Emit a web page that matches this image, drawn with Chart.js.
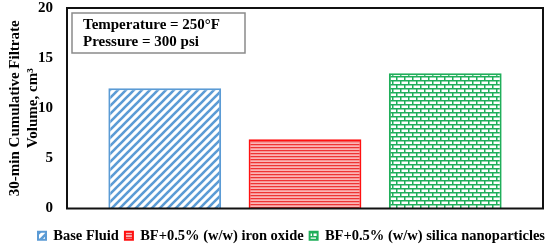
<!DOCTYPE html>
<html>
<head>
<meta charset="utf-8">
<script src="https://cdn.jsdelivr.net/npm/chart.js@4/dist/chart.umd.min.js"></script>
<style>
  html, body { margin: 0; padding: 0; background: #fff; }
  #wrap { width: 550px; height: 247px; }
</style>
</head>
<body>
<div id="wrap"><canvas id="filtrateChart"></canvas></div>
<script>
// data
const categories = [''];
const seriesNames = [
    'Base Fluid',
    'BF+0.5% (w/w) iron oxide',
    'BF+0.5% (w/w) silica nanoparticles'
];
const filtrateVolume = [12.0, 6.9, 13.5];
const yTitle = ['30-min Cumulative Filtrate', 'Volume, cm\u00B3'];
const noteLines = ['Temperature = 250\u00B0F', 'Pressure = 300 psi'];

const FONT = '"Liberation Serif", "Times New Roman", serif';

// hatch patterns like the excel fills
function stripePattern(color) {
    const c = document.createElement('canvas');
    c.width = 8; c.height = 8;
    const g = c.getContext('2d');
    g.fillStyle = '#fff';
    g.fillRect(0, 0, 8, 8);
    g.strokeStyle = color;
    g.lineWidth = 2.6;
    [[-8, 8, 8, -8], [0, 8, 8, 0], [0, 16, 16, 0]].forEach(function(l) {
        g.beginPath();
        g.moveTo(l[0], l[1]);
        g.lineTo(l[2], l[3]);
        g.stroke();
    });
    return g.createPattern(c, 'repeat');
}

function hLinePattern() {
    const c = document.createElement('canvas');
    c.width = 4; c.height = 3;
    const g = c.getContext('2d');
    g.fillStyle = '#ee3434'; g.fillRect(0, 0, 4, 1);
    g.fillStyle = '#f79595'; g.fillRect(0, 1, 4, 1);
    g.fillStyle = '#fbb5b5'; g.fillRect(0, 2, 4, 1);
    return g.createPattern(c, 'repeat');
}

function brickPattern(color) {
    const c = document.createElement('canvas');
    c.width = 16; c.height = 8;
    const g = c.getContext('2d');
    g.fillStyle = '#fff';
    g.fillRect(0, 0, 16, 8);
    g.fillStyle = color;
    g.fillRect(0, 0, 16, 1.5);
    g.fillRect(0, 4, 16, 1.5);
    g.fillRect(0, 0, 1.5, 4);
    g.fillRect(8, 0, 1.5, 4);
    g.fillRect(4, 4, 1.5, 4);
    g.fillRect(12, 4, 1.5, 4);
    return g.createPattern(c, 'repeat');
}

const fills = [stripePattern('#5b9bd5'), hLinePattern(), brickPattern('#1fae5a')];
const borders = ['#5b9bd5', '#ff1010', '#1fae5a'];

// move the legend row lower and to the right, like in the original
const legendShift = {
    id: 'legendShift',
    afterLayout(chart) {
        const lg = chart.legend;
        if (!lg) return;
        lg.top += 14;
        lg.bottom += 14;
        lg.left += 19;
        lg.right += 19;
    }
};

// plot frame drawn on top of the bars
const framePlugin = {
    id: 'frame',
    afterDatasetsDraw(chart) {
        const a = chart.chartArea;
        const ctx = chart.ctx;
        ctx.save();
        ctx.strokeStyle = '#111';
        ctx.lineWidth = 2;
        ctx.strokeRect(a.left, a.top, a.right - a.left, a.bottom - a.top);
        ctx.restore();
    }
};

// condition text box in the upper left
const notePlugin = {
    id: 'note',
    afterDraw(chart) {
        const a = chart.chartArea;
        const ctx = chart.ctx;
        const x = a.left + 5, y = a.top + 5;
        ctx.save();
        ctx.fillStyle = '#fff';
        ctx.fillRect(x, y, 173, 40);
        ctx.strokeStyle = '#8a8a8a';
        ctx.lineWidth = 1.5;
        ctx.strokeRect(x, y, 173, 40);
        ctx.fillStyle = '#000';
        ctx.font = 'bold 15px ' + FONT;
        ctx.textBaseline = 'middle';
        ctx.fillText(noteLines[0], x + 11, y + 12);
        ctx.fillText(noteLines[1], x + 11, y + 29);
        ctx.restore();
    }
};

const datasets = seriesNames.map(function(name, i) {
    return {
        label: name,
        data: [filtrateVolume[i]],
        backgroundColor: fills[i],
        borderColor: borders[i],
        borderWidth: 2,
        categoryPercentage: 0.884,
        barPercentage: 0.804
    };
});

new Chart(document.getElementById('filtrateChart'), {
    type: 'bar',
    data: {
        labels: categories,
        datasets: datasets
    },
    options: {
        responsive: true,
        maintainAspectRatio: false,
        animation: false,
        layout: {
            padding: { top: 8, right: 7, left: 2, bottom: 8 }
        },
        plugins: {
            legend: {
                position: 'bottom',
                labels: {
                    color: '#000',
                    font: { family: FONT, size: 14.5, weight: 'bold' },
                    boxWidth: 8,
                    boxHeight: 8,
                    padding: 6
                }
            },
            tooltip: { enabled: false }
        },
        scales: {
            x: { display: false },
            y: {
                min: 0,
                max: 20,
                border: { display: false },
                grid: { display: false, drawTicks: false },
                ticks: {
                    stepSize: 5,
                    padding: 14,
                    color: '#000',
                    font: { family: FONT, size: 15, weight: 'bold' }
                },
                title: {
                    display: true,
                    text: yTitle,
                    color: '#000',
                    padding: { top: 4, bottom: 0 },
                    font: { family: FONT, size: 15, weight: 'bold' }
                },
                afterFit: function(scale) {
                    scale.width = 65;
                    // tick padding should not eat space above/below the plot
                    scale.paddingTop = 0;
                    scale.paddingBottom = 0;
                }
            }
        }
    },
    plugins: [legendShift, framePlugin, notePlugin]
});
</script>
</body>
</html>
